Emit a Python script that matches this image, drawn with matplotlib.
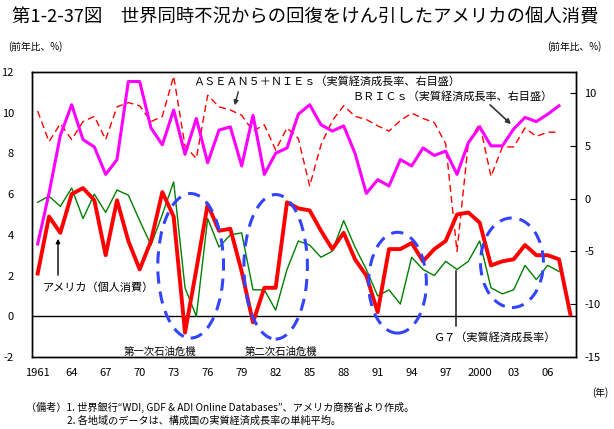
import matplotlib
matplotlib.use("Agg")
import matplotlib.pyplot as plt
from matplotlib.patches import Ellipse
import numpy as np

plt.rcParams['font.family'] = ['Noto Sans CJK JP', 'DejaVu Sans']
plt.rcParams['axes.unicode_minus'] = False

years = list(range(1961, 2009))
years_g = list(range(1961, 2008))

us_consumption = [2.1, 4.9, 4.1, 6.0, 6.3, 5.7, 3.0, 5.7, 3.7, 2.3,
                  3.7, 6.1, 4.9, -0.8, 2.3, 5.5, 4.2, 4.3, 2.2, -0.3,
                  1.4, 1.4, 5.6, 5.3, 5.2, 4.2, 3.3, 4.1, 2.8, 2.0,
                  0.2, 3.3, 3.3, 3.6, 2.7, 3.3, 3.7, 5.0, 5.1, 4.6,
                  2.5, 2.7, 2.8, 3.5, 3.0, 3.0, 2.8, 0.1]

g7_growth = [5.6, 5.9, 5.4, 6.3, 4.8, 6.0, 5.1, 6.2, 5.95, 4.7,
             3.5, 5.0, 6.6, 1.4, 0.0, 4.8, 3.4, 4.0, 4.1, 1.3,
             1.3, 0.3, 2.3, 3.7, 3.5, 2.9, 3.2, 4.7, 3.4, 2.3,
             1.0, 1.3, 0.6, 2.9, 2.3, 2.0, 2.7, 2.3, 2.7, 3.7,
             1.4, 1.1, 1.3, 2.5, 1.8, 2.5, 2.2]

asean_growth = [8.3, 5.4, 7.1, 5.6, 7.3, 7.8, 5.6, 8.7, 9.1, 8.8,
                7.3, 7.8, 11.6, 5.0, 3.8, 9.8, 8.7, 8.4, 7.9, 6.4,
                7.0, 4.6, 6.7, 5.7, 1.2, 5.1, 7.4, 8.8, 7.8, 7.5,
                6.9, 6.4, 7.4, 8.1, 7.6, 7.2, 5.2, -5.0, 5.3, 7.1,
                2.1, 4.9, 4.9, 6.7, 5.9, 6.3, 6.3]

brics_growth = [-4.3, 0.5, 6.0, 8.9, 5.6, 4.9, 2.3, 3.7, 11.1, 11.1,
                6.7, 5.1, 8.4, 4.2, 7.6, 3.4, 6.5, 6.8, 3.1, 7.9,
                2.3, 4.3, 4.8, 8.0, 8.9, 7.0, 6.4, 6.9, 4.3, 0.5,
                1.8, 1.2, 3.7, 3.1, 4.8, 4.1, 4.5, 2.3, 5.3, 6.8,
                5.0, 5.0, 6.6, 7.7, 7.3, 8.0, 8.8]

xtick_years = [1961, 1964, 1967, 1970, 1973, 1976, 1979, 1982, 1985, 1988,
               1991, 1994, 1997, 2000, 2003, 2006]
xtick_labels = ['1961', '64', '67', '70', '73', '76', '79', '82', '85', '88',
                '91', '94', '97', '2000', '03', '06']
left_ticks = [-2, 0, 2, 4, 6, 8, 10, 12]
right_ticks = [-15, -10, -5, 0, 5, 10]

# crisis ellipses: (center year, center value, width years, height value) on left axis
ellipses = [(1974.5, 2.48, 5.8, 7.1),
            (1982.0, 2.43, 5.6, 7.1),
            (1992.75, 1.65, 5.1, 4.95),
            (2002.85, 2.63, 5.55, 4.4)]

W, H = 614, 429
fig = plt.figure(figsize=(W / 100, H / 100), dpi=100)
L, R, T, B = 32, 576, 72, 357
ax = fig.add_axes([L / W, 1 - B / H, (R - L) / W, (B - T) / H])
ax2 = ax.twinx()

def fp(x, y):
    return (x / W, 1 - y / H)

ax.set_xlim(1960.5, 2008.5)
ax.set_ylim(-2, 12)
ax2.set_ylim(-15, 12)

ax.axhline(0, color='black', lw=1.0, zorder=1)

ax2.plot(years_g, asean_growth, color='#ff0000', lw=1.0, ls=(0, (5, 3)), zorder=2)
ax2.plot(years_g, brics_growth, color='#ff00ff', lw=2.2, zorder=2)
ax.plot(years_g, g7_growth, color='#008000', lw=1.0, zorder=3)
ax.plot(years, us_consumption, color='#ff0000', lw=2.8, zorder=4)

for (xc, yc, w, h) in ellipses:
    ax.add_patch(Ellipse((xc, yc), w, h, fill=False, ec='#3344ff', lw=2.2,
                         ls=(0, (4, 2.6)), zorder=5))

ax.set_xticks(xtick_years)
ax.set_xticklabels(xtick_labels, fontsize=8)
ax.set_yticks(left_ticks)
ax.set_yticklabels([str(v) for v in left_ticks], fontsize=8)
ax2.set_yticks(right_ticks)
ax2.set_yticklabels([str(v) for v in right_ticks], fontsize=8)
ax.tick_params(axis='x', length=0, pad=8)
ax.tick_params(axis='y', length=0, pad=13)
ax2.tick_params(axis='y', direction='in', length=4, pad=6)
for a in (ax, ax2):
    for s in a.spines.values():
        s.set_linewidth(1.0)
        s.set_color('black')

# titles and axis units
fig.text(*fp(12, 16), '第1-2-37図　世界同時不況からの回復をけん引したアメリカの個人消費',
         fontsize=13.2, ha='left', va='center')
fig.text(*fp(8, 47), '(前年比、%)', fontsize=7, ha='left', va='center')
fig.text(*fp(602, 47), '(前年比、%)', fontsize=7, ha='right', va='center')
fig.text(*fp(608, 393), '(年)', fontsize=7, ha='right', va='center')

# series annotations
fig.text(*fp(193, 81), 'ＡＳＥＡＮ５＋ＮＩＥｓ（実質経済成長率、右目盛）', fontsize=8,
         ha='left', va='center')
ax.annotate('', xy=fp(234, 108), xytext=fp(239, 89), xycoords='figure fraction',
            textcoords='figure fraction',
            arrowprops=dict(arrowstyle='-|>', color='#333333', lw=1.0, mutation_scale=7))
fig.text(*fp(352, 96), 'ＢＲＩＣｓ（実質経済成長率、右目盛）', fontsize=8,
         ha='left', va='center')
ax.annotate('', xy=fp(513, 126), xytext=fp(488, 103), xycoords='figure fraction',
            textcoords='figure fraction',
            arrowprops=dict(arrowstyle='-|>', color='#333333', lw=1.2, mutation_scale=7))
fig.text(*fp(43, 288), 'アメリカ（個人消費）', fontsize=8, ha='left', va='center')
ax.annotate('', xy=fp(58, 236), xytext=fp(58, 278), xycoords='figure fraction',
            textcoords='figure fraction',
            arrowprops=dict(arrowstyle='-|>', color='black', lw=1.0, mutation_scale=6))
fig.text(*fp(433, 337), 'Ｇ７（実質経済成長率）', fontsize=8, ha='left', va='center')
ax.annotate('', xy=fp(456, 268), xytext=fp(456, 329), xycoords='figure fraction',
            textcoords='figure fraction',
            arrowprops=dict(arrowstyle='-', color='black', lw=1.0))
fig.text(*fp(160, 352), '第一次石油危機', fontsize=7.5, ha='center', va='center')
fig.text(*fp(281, 352), '第二次石油危機', fontsize=7.5, ha='center', va='center')

# notes
fig.text(*fp(26, 407), '（備考）1. 世界銀行“WDI, GDF & ADI Online Databases”、アメリカ商務省より作成。',
         fontsize=7.3, ha='left', va='center')
fig.text(*fp(67, 421), '2. 各地域のデータは、構成国の実質経済成長率の単純平均。',
         fontsize=7.3, ha='left', va='center')

fig.savefig('out.png', dpi=100)
